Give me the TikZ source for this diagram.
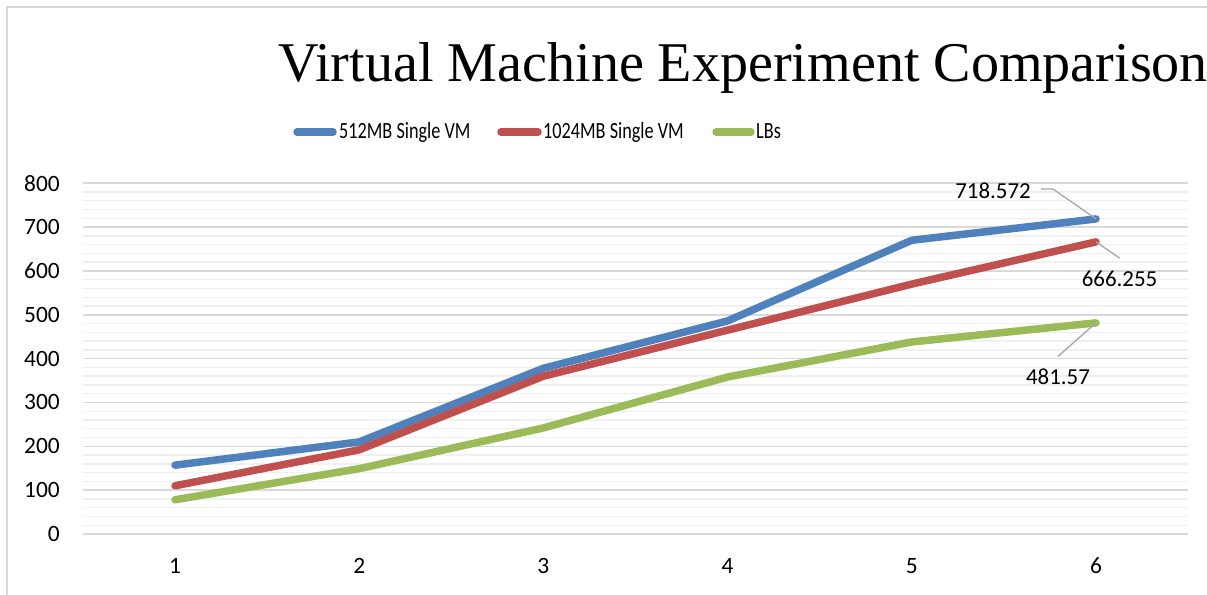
\documentclass[tikz,border=0pt]{standalone}
\usepackage{fontspec}
\setmainfont{Carlito}
\newfontfamily\titlefont{Liberation Serif}
\definecolor{framegray}{HTML}{D9D9D9}
\definecolor{gridmajor}{HTML}{D9D9D9}
\definecolor{gridminor}{HTML}{F0F0F0}
\definecolor{leadergray}{HTML}{A6A6A6}
\definecolor{serblue}{HTML}{4F81BD}
\definecolor{serred}{HTML}{C0504D}
\definecolor{sergreen}{HTML}{9BBB59}
\begin{document}
\begin{tikzpicture}[x=1bp,y=-1bp,
  chartframe/.style={draw=framegray,line width=1.5bp},
  majorgrid/.style={draw=gridmajor,line width=1.6bp},
  minorgrid/.style={draw=gridminor,line width=1.4bp},
  series/.style={line width=7.5bp,line cap=round,line join=round},
  leader/.style={draw=leadergray,line width=1.3bp},
  ticklabel/.style={font=\fontsize{23.5}{28}\selectfont,inner sep=0pt},
  datalabel/.style={font=\fontsize{23}{28}\selectfont,inner sep=0pt},
  legendtext/.style={font=\fontsize{23.3}{28}\selectfont,inner sep=0pt,anchor=base west},
  titletext/.style={font=\titlefont\fontsize{56.3}{64}\selectfont,inner sep=0pt,anchor=base west}
]
\useasboundingbox (0,0) rectangle (1207,595);

% chart area outline (top and left edges)
\draw[chartframe] (1207,7) -- (7,7) -- (7,595);

% title
\node[titletext] (title) at (278,82) {Virtual Machine Experiment Comparison};

% legend
\coordinate (lbA) at (297,132); \coordinate (lbB) at (333,132);
\coordinate (lrA) at (501,132); \coordinate (lrB) at (538,132);
\coordinate (lgA) at (716,132); \coordinate (lgB) at (751,132);
\draw[series,serblue] (lbA) -- (lbB);
\draw[series,serred] (lrA) -- (lrB);
\draw[series,sergreen] (lgA) -- (lgB);
\node[legendtext] (legb) at (339,139) {\scalebox{0.785}[1]{512MB Single VM}};
\node[legendtext] (legr) at (543,139) {\scalebox{0.785}[1]{1024MB Single VM}};
\node[legendtext] (legg) at (756,139) {\scalebox{0.785}[1]{LBs}};

% gridlines: minor every 20, major every 100
\foreach \v in {20,40,...,780} {
  \draw[minorgrid] (83,{534-0.43844*\v}) -- (1188,{534-0.43844*\v});
}
\foreach \v in {0,100,...,800} {
  \draw[majorgrid] (83,{534-0.43844*\v}) -- (1188,{534-0.43844*\v});
  \node[ticklabel,anchor=east] (ytick\v) at (60,{534-0.43844*\v}) {\v};
}

% category labels
\foreach \i in {1,...,6} {
  \node[ticklabel] (xtick\i) at ({175+184.2*(\i-1)},566) {\i};
}

% data points
\coordinate (b1) at (175,{534-0.43844*157});
\coordinate (b2) at (359.2,{534-0.43844*210});
\coordinate (b3) at (543.4,{534-0.43844*378});
\coordinate (b4) at (727.6,{534-0.43844*486});
\coordinate (b5) at (911.8,{534-0.43844*670});
\coordinate (b6) at (1096,{534-0.43844*718.572});

\coordinate (r1) at (175,{534-0.43844*110});
\coordinate (r2) at (359.2,{534-0.43844*192});
\coordinate (r3) at (543.4,{534-0.43844*360});
\coordinate (r4) at (727.6,{534-0.43844*465});
\coordinate (r5) at (911.8,{534-0.43844*570});
\coordinate (r6) at (1096,{534-0.43844*666.255});

\coordinate (g1) at (175,{534-0.43844*78});
\coordinate (g2) at (359.2,{534-0.43844*149});
\coordinate (g3) at (543.4,{534-0.43844*242});
\coordinate (g4) at (727.6,{534-0.43844*358});
\coordinate (g5) at (911.8,{534-0.43844*438});
\coordinate (g6) at (1096,{534-0.43844*481.57});

% series lines
\draw[series,serblue] (b1) -- (b2) -- (b3) -- (b4) -- (b5) -- (b6);
\draw[series,serred] (r1) -- (r2) -- (r3) -- (r4) -- (r5) -- (r6);
\draw[series,sergreen] (g1) -- (g2) -- (g3) -- (g4) -- (g5) -- (g6);

% data labels with leader lines
\node[datalabel] (lblb) at (993,190.5) {718.572};
\node[datalabel] (lblr) at (1119.5,279) {666.255};
\node[datalabel] (lblg) at (1058,376.5) {481.57};
\draw[leader] ([xshift=10bp,yshift=1.5bp]lblb.east) -- ++(12,0) -- (b6);
\draw[leader] (r6) -- ([yshift=13bp]lblr.north);
\draw[leader] (g6) -- ([yshift=12bp]lblg.north);
\end{tikzpicture}
\end{document}
